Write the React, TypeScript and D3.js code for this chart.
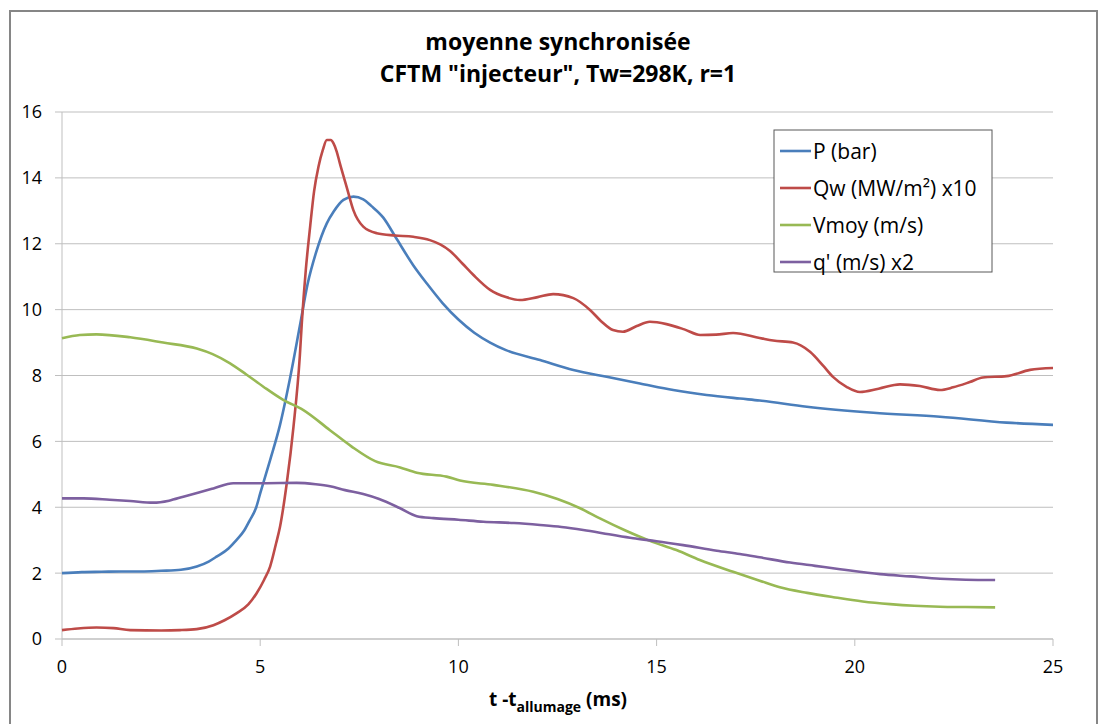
import React from 'react';
import * as d3 from 'd3';

// series (t in ms)
const pT = [0, 0.5, 1, 1.5, 2, 2.5, 3, 3.4, 3.7, 3.9, 4.2, 4.4, 4.6, 4.74, 4.9, 5.0, 5.25, 5.5, 5.75, 6.0, 6.2, 6.4, 6.68, 6.85, 7.1, 7.35, 7.6, 7.8, 8.1, 8.44, 8.86, 9.2, 9.6, 10.0, 10.4, 10.8, 11.2, 12.06, 12.9, 13.74, 14.58, 15.42, 16.26, 17.1, 17.6, 18.79, 20.47, 22.15, 23.83, 25];
const pVal = [2.0, 2.03, 2.04, 2.05, 2.05, 2.07, 2.1, 2.2, 2.35, 2.5, 2.75, 3.0, 3.3, 3.61, 4.0, 4.42, 5.43, 6.5, 7.9, 9.5, 10.8, 11.7, 12.62, 12.97, 13.33, 13.43, 13.35, 13.15, 12.8, 12.15, 11.35, 10.8, 10.2, 9.7, 9.3, 9.0, 8.77, 8.47, 8.17, 7.96, 7.76, 7.56, 7.41, 7.3, 7.24, 7.05, 6.87, 6.75, 6.57, 6.5];

const qwT = [0, 0.4, 0.87, 1.3, 1.72, 2.5, 2.98, 3.4, 3.82, 4.1, 4.4, 4.7, 4.91, 5.1, 5.25, 5.4, 5.5, 5.67, 5.84, 6.0, 6.05, 6.15, 6.26, 6.36, 6.47, 6.58, 6.68, 6.78, 6.85, 6.93, 7.01, 7.18, 7.35, 7.6, 7.94, 8.4, 8.86, 9.28, 9.54, 9.79, 10.1, 10.38, 10.8, 11.2, 11.55, 12.0, 12.39, 12.9, 13.32, 13.6, 13.9, 14.15, 14.5, 14.83, 15.25, 15.7, 16.1, 16.5, 16.93, 17.6, 17.94, 18.44, 18.87, 19.2, 19.45, 19.8, 20.13, 20.6, 21.14, 21.64, 22.15, 22.48, 22.9, 23.23, 23.83, 24.42, 25];
const qwVal = [0.27, 0.32, 0.35, 0.33, 0.27, 0.26, 0.27, 0.3, 0.42, 0.57, 0.78, 1.05, 1.39, 1.8, 2.2, 2.9, 3.41, 4.73, 6.45, 8.6, 9.6, 11.2, 12.52, 13.6, 14.34, 14.85, 15.15, 15.15, 15.05, 14.8, 14.44, 13.73, 13.02, 12.52, 12.32, 12.25, 12.21, 12.11, 11.98, 11.78, 11.4, 11.05, 10.6, 10.38, 10.29, 10.38, 10.47, 10.35, 9.99, 9.65, 9.38, 9.33, 9.5, 9.63, 9.56, 9.4, 9.23, 9.24, 9.29, 9.14, 9.06, 9.0, 8.72, 8.3, 7.96, 7.65, 7.5, 7.6, 7.73, 7.68, 7.56, 7.64, 7.8, 7.94, 7.98, 8.17, 8.23];

const vT = [0, 0.45, 0.87, 1.72, 2.55, 3.4, 3.8, 4.24, 4.65, 5.08, 5.58, 6.09, 6.76, 7.3, 7.9, 8.53, 8.95, 9.7, 10.04, 10.88, 11.89, 12.5, 13.07, 13.57, 14.2, 14.83, 15.5, 16.09, 16.93, 17.6, 18.11, 18.8, 19.46, 20.2, 20.89, 21.5, 22.15, 22.8, 23.54];
const vVal = [9.13, 9.23, 9.25, 9.16, 9.0, 8.82, 8.65, 8.37, 8.03, 7.66, 7.26, 6.95, 6.34, 5.85, 5.4, 5.21, 5.05, 4.93, 4.81, 4.68, 4.47, 4.25, 3.97, 3.66, 3.3, 2.98, 2.7, 2.4, 2.04, 1.77, 1.57, 1.4, 1.27, 1.14, 1.06, 1.01, 0.98, 0.97, 0.96];

const qT = [0, 0.54, 1.2, 1.72, 2.3, 2.7, 3.06, 3.45, 3.82, 4.32, 5.08, 5.92, 6.4, 6.76, 7.14, 7.6, 8.0, 8.53, 8.95, 9.37, 10.0, 10.63, 11.4, 12.06, 12.6, 13.15, 13.8, 14.41, 15.0, 15.67, 16.52, 17.1, 17.6, 18.37, 19.0, 19.63, 20.64, 21.4, 22.15, 22.8, 23.54];
const qVal = [4.27, 4.27, 4.23, 4.19, 4.14, 4.2, 4.32, 4.45, 4.57, 4.73, 4.73, 4.74, 4.7, 4.64, 4.52, 4.4, 4.25, 3.97, 3.73, 3.67, 3.62, 3.56, 3.52, 3.46, 3.4, 3.31, 3.18, 3.06, 2.97, 2.85, 2.68, 2.58, 2.48, 2.32, 2.22, 2.12, 1.97, 1.9, 1.83, 1.8, 1.79];

const seriesNames = ['P (bar)', 'Qw (MW/m²) x10', 'Vmoy (m/s)', "q' (m/s) x2"];
const seriesColors = ['#4A7EBB', '#BE4B48', '#98B954', '#7D60A0'];
const xTicks = [0, 5, 10, 15, 20, 25];
const yTicks = [0, 2, 4, 6, 8, 10, 12, 14, 16];

const width = 1099;
const height = 724;
const marginLeft = 62;
const marginRight = 46;
const marginTop = 112;
const marginBottom = 85;

const font = '"Open Sans", "Noto Sans", sans-serif';

const App: React.FC = () => {
    const x = d3.scaleLinear().domain([0, 25]).range([marginLeft, width - marginRight]);
    const y = d3.scaleLinear().domain([0, 16]).range([height - marginBottom, marginTop]);

    const line = d3.line<[number, number]>()
        .x(d => x(d[0]))
        .y(d => y(d[1]))
        .curve(d3.curveMonotoneX);

    const series = [
        { t: pT, v: pVal },
        { t: qwT, v: qwVal },
        { t: vT, v: vVal },
        { t: qT, v: qVal },
    ].map((s, i) => ({
        name: seriesNames[i],
        color: seriesColors[i],
        pts: s.t.map((t, j) => [t, s.v[j]] as [number, number]),
    }));

    const x0 = x(0), x1 = x(25), yb = y(0), yt = y(16);
    const legX = 774, legY = 130, legW = 218, legH = 142;

    return (
        <svg width={width} height={height} style={{ position: 'absolute', left: 0, top: 0, background: '#fff' }}>
            <rect x={10} y={11} width={1087} height={720} fill="#fff" stroke="#868686" strokeWidth={2} />

            <text x={558} y={50} textAnchor="middle" fontFamily={font} fontWeight="bold" fontSize={23}>moyenne synchronisée</text>
            <text x={558} y={82} textAnchor="middle" fontFamily={font} fontWeight="bold" fontSize={23}>CFTM "injecteur", Tw=298K, r=1</text>

            {yTicks.filter(v => v > 0).map(v => (
                <line key={'g' + v} x1={x0} x2={x1} y1={y(v)} y2={y(v)} stroke="#BFBFBF" strokeWidth={1} />
            ))}

            <line x1={x0} x2={x0} y1={yt} y2={yb} stroke="#BFBFBF" strokeWidth={1} />
            <line x1={x0} x2={x1} y1={yb} y2={yb} stroke="#BFBFBF" strokeWidth={1.5} />
            {yTicks.map(v => (
                <g key={'y' + v}>
                    <line x1={x0 - 7} x2={x0} y1={y(v)} y2={y(v)} stroke="#BFBFBF" />
                    <text x={42} y={y(v)} dy="0.36em" textAnchor="end" fontFamily={font} fontSize={18}>{v}</text>
                </g>
            ))}
            {xTicks.map(v => (
                <g key={'x' + v}>
                    <line x1={x(v)} x2={x(v)} y1={yb} y2={yb + 7} stroke="#BFBFBF" />
                    <text x={x(v)} y={673} textAnchor="middle" fontFamily={font} fontSize={18}>{v}</text>
                </g>
            ))}

            {series.map(s => (
                <path key={s.name} d={line(s.pts) ?? ''} fill="none" stroke={s.color} strokeWidth={2.6} strokeLinejoin="round" />
            ))}

            <text x={558} y={706} textAnchor="middle" fontFamily={font} fontWeight="bold" fontSize={19}>
                t -t<tspan fontSize={14} dy={6}>allumage</tspan><tspan dy={-6}> (ms)</tspan>
            </text>

            <rect x={legX} y={legY} width={legW} height={legH} fill="#fff" stroke="#595959" strokeWidth={1} />
            {series.map((s, i) => (
                <g key={'l' + i} transform={`translate(${legX}, ${legY + 21 + i * 37})`}>
                    <line x1={6} x2={37} y1={0} y2={0} stroke={s.color} strokeWidth={2.6} />
                    <text x={39} y={0} dy="0.36em" fontFamily={font} fontSize={21}>{s.name}</text>
                </g>
            ))}
        </svg>
    );
};

export default App;
